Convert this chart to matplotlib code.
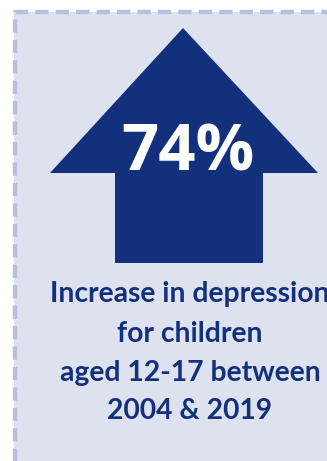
import matplotlib
matplotlib.use("Agg")
import matplotlib.pyplot as plt
from matplotlib.patches import Polygon, Rectangle

# Data / text
stat_value = 74
stat_label = f"{stat_value}%"
caption_lines = ["Increase in depression", "for children", "aged 12-17 between", "2004 & 2019"]

W, H = 327, 461
BG = "#dee2ee"
BORDER = "#b8c1d9"
NAVY = "#12307c"

fig = plt.figure(figsize=(W / 100, H / 100), dpi=100)
fig.patch.set_facecolor("white")
ax = fig.add_axes([0, 0, 1, 1])
ax.set_xlim(0, W)
ax.set_ylim(H, 0)
ax.axis("off")

# panel background and dashed border
ax.add_patch(Rectangle((14, 12), W + 20, H + 20, facecolor=BG, edgecolor="none", zorder=1))
ax.plot([14.5, 14.5, W + 5], [H + 5, 12, 12], color=BORDER, lw=3.2,
        linestyle=(0, (3.0, 1.6)), solid_capstyle="butt", zorder=2)

# arrow
arrow = [(183, 28), (318, 173), (263, 173), (263, 263), (115, 263), (115, 173), (50, 173)]
ax.add_patch(Polygon(arrow, closed=True, facecolor=NAVY, edgecolor="none", zorder=3))

ax.text(188, 170, stat_label, color="white", fontsize=47, fontweight="bold",
        family="Open Sans", ha="center", va="baseline", zorder=4)

baselines = [302, 342, 381, 419]
for line, yb in zip(caption_lines, baselines):
    ax.text(190, yb, line, color=NAVY, fontsize=20.3, fontweight="bold",
            family="Lato", ha="center", va="baseline", zorder=4)

fig.savefig("out.png", dpi=100, facecolor=fig.get_facecolor())
